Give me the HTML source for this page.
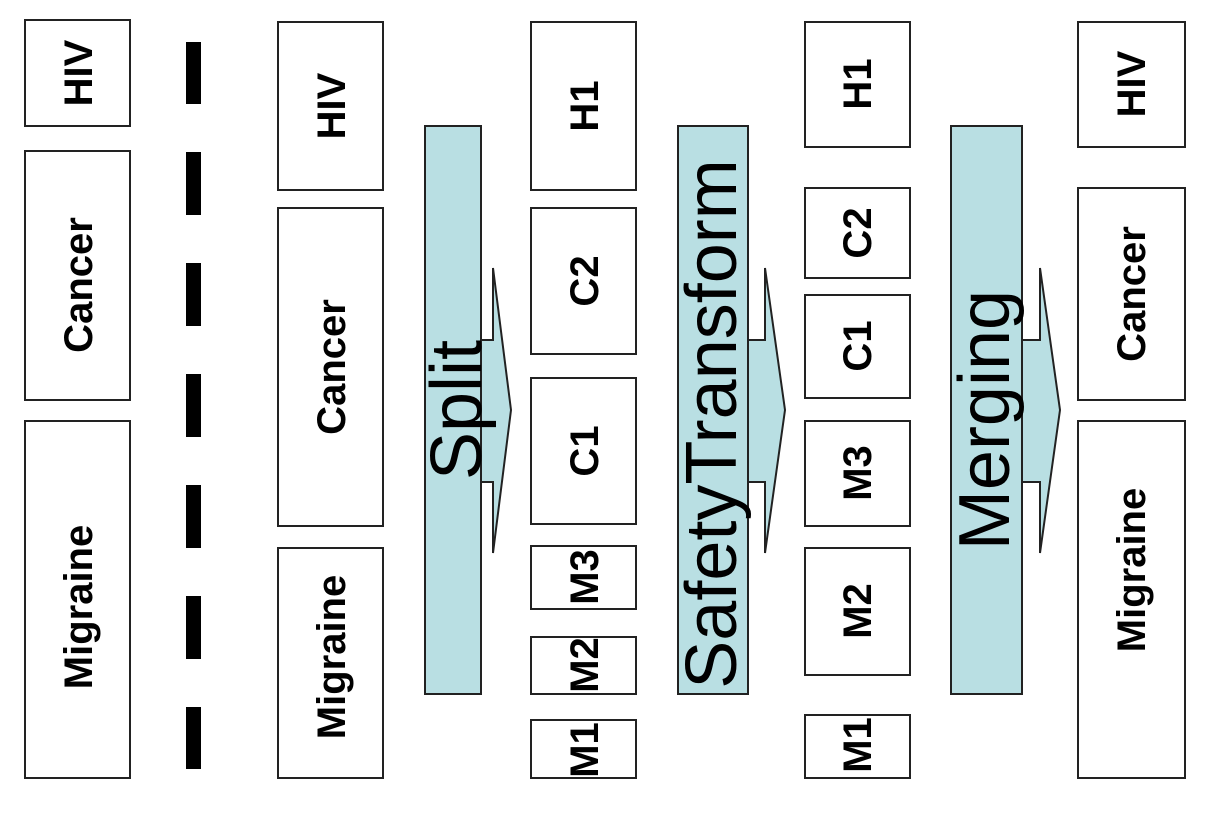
<!DOCTYPE html>
<html><head><meta charset="utf-8"><style>
html,body{margin:0;padding:0;background:#fff;}
svg{display:block;}
text{font-family:"Liberation Sans",Arial,sans-serif;}
.b{font-weight:bold;font-size:40px;}
.a{font-size:72px;}
rect.n{fill:#fff;stroke:#222;stroke-width:2;}
.s{fill:#b9dfe3;stroke:#222;stroke-width:2;}
</style></head><body>
<svg width="1212" height="814" viewBox="0 0 1212 814" xmlns="http://www.w3.org/2000/svg">
<rect class="n" x="25" y="20" width="105" height="106"/>
<rect class="n" x="25" y="151" width="105" height="249"/>
<rect class="n" x="25" y="421" width="105" height="357"/>
<g fill="#000">
<rect x="186" y="42" width="15" height="62"/>
<rect x="186" y="152" width="15" height="63"/>
<rect x="186" y="263" width="15" height="63"/>
<rect x="186" y="374" width="15" height="63"/>
<rect x="186" y="485" width="15" height="63"/>
<rect x="186" y="596" width="15" height="63"/>
<rect x="186" y="707" width="15" height="62"/>
</g>
<rect class="n" x="278" y="22" width="105" height="168"/>
<rect class="n" x="278" y="208" width="105" height="318"/>
<rect class="n" x="278" y="548" width="105" height="230"/>
<rect class="n" x="531" y="22" width="105" height="168"/>
<rect class="n" x="531" y="208" width="105" height="146"/>
<rect class="n" x="531" y="378" width="105" height="146"/>
<rect class="n" x="531" y="546" width="105" height="63"/>
<rect class="n" x="531" y="637" width="105" height="57"/>
<rect class="n" x="531" y="720" width="105" height="58"/>
<rect class="n" x="805" y="22" width="105" height="125"/>
<rect class="n" x="805" y="188" width="105" height="90"/>
<rect class="n" x="805" y="295" width="105" height="103"/>
<rect class="n" x="805" y="421" width="105" height="105"/>
<rect class="n" x="805" y="548" width="105" height="127"/>
<rect class="n" x="805" y="715" width="105" height="63"/>
<rect class="n" x="1078" y="22" width="107" height="125"/>
<rect class="n" x="1078" y="188" width="107" height="212"/>
<rect class="n" x="1078" y="421" width="107" height="357"/>
<rect class="s" x="425" y="126" width="56" height="568"/>
<polygon class="s" points="481,340 493,340 493,268 511,410 493,553 493,482 481,482"/>
<rect class="s" x="678" y="126" width="70" height="568"/>
<polygon class="s" points="748,340 765,340 765,268 785,410 765,553 765,482 748,482"/>
<rect class="s" x="951" y="126" width="71" height="568"/>
<polygon class="s" points="1022,340 1040,340 1040,268 1060,410 1040,553 1040,482 1022,482"/>
<g text-anchor="middle" dominant-baseline="central">
<text class="b" transform="translate(79,73) rotate(-90)">HIV</text>
<text class="b" transform="translate(79,285) rotate(-90)">Cancer</text>
<text class="b" transform="translate(79,607) rotate(-90)">Migraine</text>
<text class="b" transform="translate(332,106) rotate(-90)">HIV</text>
<text class="b" transform="translate(332,367) rotate(-90)">Cancer</text>
<text class="b" transform="translate(332,657) rotate(-90)">Migraine</text>
<text class="b" transform="translate(585,106) rotate(-90)">H1</text>
<text class="b" transform="translate(585,281) rotate(-90)">C2</text>
<text class="b" transform="translate(585,451) rotate(-90)">C1</text>
<text class="b" transform="translate(585,577) rotate(-90)">M3</text>
<text class="b" transform="translate(585,665) rotate(-90)">M2</text>
<text class="b" transform="translate(585,750) rotate(-90)">M1</text>
<text class="b" transform="translate(858,84) rotate(-90)">H1</text>
<text class="b" transform="translate(858,233) rotate(-90)">C2</text>
<text class="b" transform="translate(858,346) rotate(-90)">C1</text>
<text class="b" transform="translate(858,473) rotate(-90)">M3</text>
<text class="b" transform="translate(858,611) rotate(-90)">M2</text>
<text class="b" transform="translate(858,745) rotate(-90)">M1</text>
<text class="b" transform="translate(1132,84) rotate(-90)">HIV</text>
<text class="b" transform="translate(1132,294) rotate(-90)">Cancer</text>
<text class="b" transform="translate(1132,570) rotate(-90)">Migraine</text>
<text class="a" transform="translate(457,410) rotate(-90)">Split</text>
<text class="a" transform="translate(712,424) rotate(-90)">SafetyTransform</text>
<text class="a" transform="translate(985,420) rotate(-90)">Merging</text>
</g>
</svg>
</body></html>
